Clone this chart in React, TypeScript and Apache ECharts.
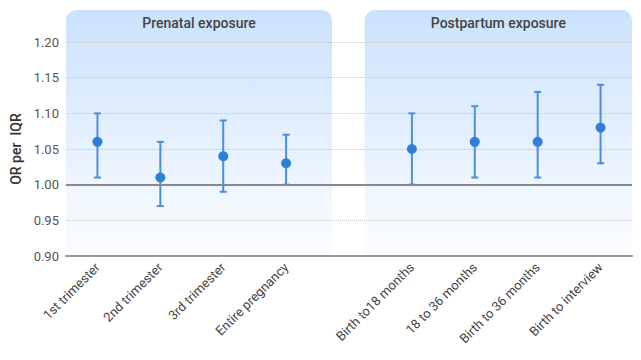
import React, { useEffect, useRef } from "react";
import * as echarts from "echarts";

const categories = [
  "1st trimester",
  "2nd trimester",
  "3rd trimester",
  "Entire pregnancy",
  "",
  "Birth to18 months",
  "18 to 36 months",
  "Birth to 36 months",
  "Birth to interview",
];
const estimate = [1.06, 1.01, 1.04, 1.03, null, 1.05, 1.06, 1.06, 1.08];
const lower = [1.01, 0.97, 0.99, 1.0, null, 1.0, 1.01, 1.01, 1.03];
const upper = [1.1, 1.06, 1.09, 1.07, null, 1.1, 1.11, 1.13, 1.14];
const panelNames = ["Prenatal exposure", "Postpartum exposure"];
const panelStart = [-0.5, 4.25];
const panelEnd = [3.73, 8.5];
const yTicks = { min: 0.9, max: 1.2, interval: 0.05 };

export default function App() {
  const ref = useRef<HTMLDivElement>(null);
  useEffect(() => {
    document.body.style.margin = "0";
    if (!ref.current) return;
    const chart = echarts.init(ref.current, null, { renderer: "svg" });
    const barData = categories
      .map((c, i) => [i, lower[i], upper[i]])
      .filter((d) => d[1] != null);
    const pointData = categories
      .map((c, i) => [i, estimate[i]])
      .filter((d) => d[1] != null);
    const panelData = panelNames.map((n, i) => [panelStart[i], panelEnd[i], i]);
    chart.setOption({
      animation: false,
      textStyle: { fontFamily: "Roboto" },
      grid: { left: 66, right: 9, top: 42, bottom: 104 },
      xAxis: [
        {
          type: "category",
          data: categories,
          z: 2,
          axisTick: { show: false },
          axisLine: { show: true, lineStyle: { color: "#999", width: 2 } },
          axisLabel: { interval: 0, rotate: 45, color: "#444", fontSize: 13, margin: 9 },
          splitLine: { show: false },
        },
        {
          type: "value",
          min: -0.5,
          max: 8.5,
          show: false,
        },
      ],
      yAxis: {
        type: "value",
        min: yTicks.min,
        max: yTicks.max,
        interval: yTicks.interval,
        z: 2,
        name: "OR per  IQR",
        nameLocation: "middle",
        nameGap: 43,
        nameTextStyle: { color: "#333", fontSize: 14, fontWeight: 500 },
        axisLine: { show: false },
        axisTick: { show: false },
        axisLabel: {
          color: "#555",
          fontSize: 13,
          margin: 7,
          formatter: (v: number) => v.toFixed(2),
        },
        splitLine: { lineStyle: { type: "dotted", color: "#c4c4c4" } },
      },
      series: [
        {
          type: "custom",
          xAxisIndex: 1,
          z: 1,
          silent: true,
          clip: false,
          data: panelData,
          renderItem: (params: any, api: any) => {
            const x0 = api.coord([api.value(0), 1.2])[0];
            const x1 = api.coord([api.value(1), 1.2])[0];
            const cs = params.coordSys;
            const top = cs.y - 32;
            const bottom = cs.y + cs.height;
            const idx = api.value(2);
            return {
              type: "group",
              children: [
                {
                  type: "rect",
                  shape: { x: x0, y: top, width: x1 - x0, height: bottom - top, r: [10, 10, 0, 0] },
                  style: {
                    fill: new echarts.graphic.LinearGradient(0, 0, 0, 1, [
                      { offset: 0, color: "#cbe2fd" },
                      { offset: 1, color: "#fcfdff" },
                    ]),
                  },
                },
                {
                  type: "text",
                  style: {
                    text: panelNames[idx],
                    x: (x0 + x1) / 2,
                    y: top + 13,
                    align: "center",
                    verticalAlign: "middle",
                    fill: "#444",
                    fontSize: 14,
                    fontWeight: 500,
                    fontFamily: "Roboto",
                  },
                },
              ],
            };
          },
        },
        {
          type: "custom",
          z: 3,
          data: barData,
          markLine: {
            silent: true,
            symbol: "none",
            label: { show: false },
            lineStyle: { color: "#888", width: 2, type: "solid" },
            data: [{ yAxis: 1 }],
          },
          renderItem: (params: any, api: any) => {
            const lo = api.coord([api.value(0), api.value(1)]);
            const hi = api.coord([api.value(0), api.value(2)]);
            const cap = 3.5;
            const style = { stroke: "#4a8fdc", lineWidth: 2 };
            return {
              type: "group",
              children: [
                { type: "line", shape: { x1: lo[0], y1: lo[1], x2: hi[0], y2: hi[1] }, style },
                { type: "line", shape: { x1: lo[0] - cap, y1: lo[1], x2: lo[0] + cap, y2: lo[1] }, style },
                { type: "line", shape: { x1: hi[0] - cap, y1: hi[1], x2: hi[0] + cap, y2: hi[1] }, style },
              ],
            };
          },
        },
        {
          type: "scatter",
          z: 4,
          data: pointData,
          symbolSize: 10,
          itemStyle: { color: "#2e7fd9", opacity: 1 },
        },
      ],
    });
    return () => chart.dispose();
  }, []);
  return <div ref={ref} style={{ width: 641, height: 360 }} />;
}
